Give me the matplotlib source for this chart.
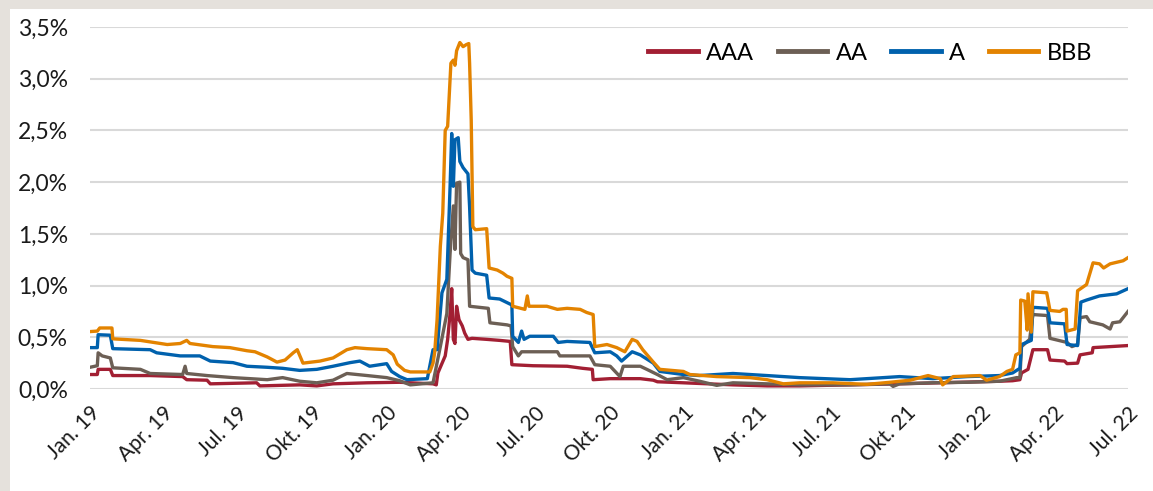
import matplotlib
matplotlib.use("Agg")
import matplotlib.pyplot as plt
import pandas as pd
from matplotlib.patches import Rectangle
from matplotlib.ticker import FuncFormatter

# spreads per rating class (in %) as (date, value) points
aaa = [("2019-01-01", 0.14), ("2019-01-10", 0.14), ("2019-01-11", 0.19), ("2019-01-26", 0.19),
       ("2019-01-29", 0.13), ("2019-03-16", 0.13), ("2019-04-25", 0.12), ("2019-04-30", 0.09),
       ("2019-05-25", 0.085), ("2019-05-29", 0.05), ("2019-07-25", 0.06), ("2019-07-29", 0.03),
       ("2019-09-16", 0.04), ("2019-10-07", 0.03), ("2019-10-27", 0.05), ("2019-12-08", 0.06),
       ("2020-01-17", 0.065), ("2020-02-27", 0.05), ("2020-03-02", 0.04), ("2020-03-04", 0.155),
       ("2020-03-13", 0.32), ("2020-03-16", 0.48), ("2020-03-19", 0.73), ("2020-03-21", 0.97),
       ("2020-03-23", 0.48), ("2020-03-25", 0.44), ("2020-03-27", 0.80), ("2020-03-30", 0.67),
       ("2020-04-03", 0.61), ("2020-04-06", 0.54), ("2020-04-10", 0.48), ("2020-04-15", 0.49),
       ("2020-05-03", 0.48), ("2020-05-19", 0.47), ("2020-06-01", 0.46), ("2020-06-03", 0.235),
       ("2020-06-29", 0.225), ("2020-08-10", 0.22), ("2020-08-29", 0.20), ("2020-09-10", 0.19),
       ("2020-09-11", 0.09), ("2020-10-02", 0.10), ("2020-11-08", 0.10), ("2020-11-24", 0.085),
       ("2020-11-29", 0.07), ("2020-12-31", 0.06), ("2021-03-02", 0.04), ("2021-04-13", 0.03),
       ("2021-05-23", 0.03), ("2021-09-23", 0.05), ("2022-01-24", 0.075), ("2022-02-09", 0.08),
       ("2022-02-18", 0.09), ("2022-02-20", 0.155), ("2022-02-28", 0.19), ("2022-03-06", 0.38),
       ("2022-03-24", 0.38), ("2022-03-27", 0.28), ("2022-04-14", 0.27), ("2022-04-17", 0.245),
       ("2022-04-30", 0.25), ("2022-05-03", 0.33), ("2022-05-18", 0.35), ("2022-05-19", 0.40),
       ("2022-07-01", 0.42)]

aa = [("2019-01-01", 0.21), ("2019-01-10", 0.225), ("2019-01-11", 0.35), ("2019-01-16", 0.32),
      ("2019-01-26", 0.30), ("2019-01-29", 0.205), ("2019-03-04", 0.19), ("2019-03-16", 0.15),
      ("2019-04-25", 0.14), ("2019-04-28", 0.22), ("2019-04-30", 0.15), ("2019-05-25", 0.13),
      ("2019-06-26", 0.11), ("2019-08-07", 0.09), ("2019-08-26", 0.11), ("2019-09-16", 0.075),
      ("2019-10-07", 0.06), ("2019-10-27", 0.085), ("2019-11-13", 0.15), ("2019-12-08", 0.13),
      ("2020-01-01", 0.11), ("2020-01-17", 0.08), ("2020-01-30", 0.04), ("2020-02-27", 0.06),
      ("2020-03-07", 0.41), ("2020-03-15", 0.73), ("2020-03-19", 1.31), ("2020-03-23", 1.77),
      ("2020-03-25", 1.35), ("2020-03-27", 1.99), ("2020-03-31", 2.00), ("2020-04-01", 1.31),
      ("2020-04-04", 1.27), ("2020-04-10", 1.25), ("2020-04-12", 0.80), ("2020-05-05", 0.78),
      ("2020-05-07", 0.64), ("2020-05-28", 0.62), ("2020-06-02", 0.61), ("2020-06-04", 0.41),
      ("2020-06-11", 0.32), ("2020-06-15", 0.36), ("2020-07-29", 0.36), ("2020-08-01", 0.32),
      ("2020-09-07", 0.32), ("2020-09-13", 0.235), ("2020-10-02", 0.22), ("2020-10-08", 0.17),
      ("2020-10-14", 0.12), ("2020-10-18", 0.22), ("2020-11-08", 0.22), ("2020-11-16", 0.19),
      ("2020-11-29", 0.14), ("2020-12-11", 0.09), ("2020-12-31", 0.11), ("2021-01-20", 0.075),
      ("2021-02-10", 0.035), ("2021-03-02", 0.06), ("2021-04-13", 0.05), ("2021-05-23", 0.04),
      ("2021-07-24", 0.04), ("2021-09-11", 0.05), ("2021-09-15", 0.025), ("2021-09-23", 0.05),
      ("2021-11-03", 0.06), ("2021-12-15", 0.065), ("2022-01-24", 0.075), ("2022-02-14", 0.11),
      ("2022-02-18", 0.11), ("2022-02-20", 0.41), ("2022-03-02", 0.48), ("2022-03-06", 0.72),
      ("2022-03-24", 0.71), ("2022-03-27", 0.49), ("2022-04-17", 0.45), ("2022-04-23", 0.41),
      ("2022-04-30", 0.43), ("2022-05-03", 0.69), ("2022-05-11", 0.70), ("2022-05-15", 0.65),
      ("2022-05-31", 0.62), ("2022-06-09", 0.58), ("2022-06-12", 0.64), ("2022-06-21", 0.65),
      ("2022-07-01", 0.75)]

a = [("2019-01-01", 0.40), ("2019-01-10", 0.40), ("2019-01-11", 0.525), ("2019-01-26", 0.52),
     ("2019-01-29", 0.39), ("2019-03-16", 0.38), ("2019-03-24", 0.35), ("2019-04-22", 0.32),
     ("2019-05-16", 0.32), ("2019-05-29", 0.27), ("2019-06-26", 0.255), ("2019-07-13", 0.22),
     ("2019-08-07", 0.21), ("2019-08-26", 0.20), ("2019-09-16", 0.18), ("2019-10-07", 0.19),
     ("2019-10-27", 0.22), ("2019-11-17", 0.255), ("2019-11-29", 0.27), ("2019-12-11", 0.22),
     ("2020-01-01", 0.245), ("2020-01-07", 0.17), ("2020-01-17", 0.12), ("2020-01-26", 0.09),
     ("2020-02-20", 0.10), ("2020-02-27", 0.38), ("2020-03-03", 0.38), ("2020-03-09", 0.93),
     ("2020-03-15", 1.06), ("2020-03-19", 1.96), ("2020-03-21", 2.47), ("2020-03-23", 1.96),
     ("2020-03-25", 2.41), ("2020-03-29", 2.43), ("2020-03-31", 2.20), ("2020-04-04", 2.14),
     ("2020-04-10", 2.08), ("2020-04-12", 1.76), ("2020-04-15", 1.15), ("2020-04-19", 1.12),
     ("2020-05-03", 1.10), ("2020-05-06", 0.88), ("2020-05-19", 0.87), ("2020-06-01", 0.82),
     ("2020-06-03", 0.82), ("2020-06-04", 0.51), ("2020-06-11", 0.45), ("2020-06-15", 0.56),
     ("2020-06-18", 0.48), ("2020-06-25", 0.51), ("2020-07-24", 0.51), ("2020-07-30", 0.45),
     ("2020-08-10", 0.46), ("2020-09-07", 0.45), ("2020-09-13", 0.35), ("2020-10-02", 0.36),
     ("2020-10-10", 0.32), ("2020-10-16", 0.27), ("2020-10-29", 0.36), ("2020-11-08", 0.33),
     ("2020-11-24", 0.25), ("2020-12-02", 0.17), ("2020-12-31", 0.14), ("2021-01-20", 0.13),
     ("2021-03-02", 0.15), ("2021-04-13", 0.13), ("2021-05-23", 0.11), ("2021-07-24", 0.09),
     ("2021-09-03", 0.11), ("2021-09-23", 0.12), ("2021-11-03", 0.10), ("2021-12-15", 0.12),
     ("2022-01-24", 0.13), ("2022-02-09", 0.155), ("2022-02-18", 0.20), ("2022-02-20", 0.43),
     ("2022-03-04", 0.47), ("2022-03-06", 0.79), ("2022-03-24", 0.78), ("2022-03-27", 0.64),
     ("2022-04-14", 0.63), ("2022-04-17", 0.43), ("2022-04-30", 0.42), ("2022-05-04", 0.84),
     ("2022-05-11", 0.86), ("2022-05-27", 0.90), ("2022-06-17", 0.92), ("2022-07-01", 0.97)]

bbb = [("2019-01-01", 0.555), ("2019-01-10", 0.56), ("2019-01-13", 0.59), ("2019-01-28", 0.59),
       ("2019-01-29", 0.485), ("2019-03-04", 0.47), ("2019-04-06", 0.43), ("2019-04-22", 0.44),
       ("2019-04-30", 0.47), ("2019-05-04", 0.44), ("2019-06-01", 0.41), ("2019-06-22", 0.40),
       ("2019-07-13", 0.37), ("2019-07-23", 0.36), ("2019-08-07", 0.31), ("2019-08-19", 0.26),
       ("2019-08-29", 0.28), ("2019-09-08", 0.35), ("2019-09-13", 0.38), ("2019-09-20", 0.25),
       ("2019-10-11", 0.27), ("2019-10-27", 0.30), ("2019-11-13", 0.38), ("2019-11-23", 0.40),
       ("2019-12-08", 0.39), ("2020-01-01", 0.38), ("2020-01-09", 0.33), ("2020-01-14", 0.24),
       ("2020-01-23", 0.18), ("2020-01-30", 0.165), ("2020-02-23", 0.165), ("2020-02-27", 0.25),
       ("2020-02-29", 0.35), ("2020-03-03", 0.67), ("2020-03-07", 1.38), ("2020-03-10", 1.70),
       ("2020-03-13", 2.50), ("2020-03-16", 2.54), ("2020-03-20", 3.15), ("2020-03-23", 3.18),
       ("2020-03-25", 3.13), ("2020-03-27", 3.27), ("2020-03-31", 3.35), ("2020-04-04", 3.31),
       ("2020-04-08", 3.33), ("2020-04-11", 3.34), ("2020-04-12", 3.15), ("2020-04-14", 2.60),
       ("2020-04-16", 1.57), ("2020-04-19", 1.54), ("2020-05-03", 1.55), ("2020-05-06", 1.17),
       ("2020-05-16", 1.15), ("2020-05-23", 1.12), ("2020-05-28", 1.09), ("2020-06-03", 1.07),
       ("2020-06-04", 0.80), ("2020-06-19", 0.77), ("2020-06-22", 0.90), ("2020-06-24", 0.80),
       ("2020-07-16", 0.80), ("2020-07-29", 0.77), ("2020-08-10", 0.78), ("2020-08-26", 0.77),
       ("2020-09-03", 0.74), ("2020-09-11", 0.72), ("2020-09-13", 0.41), ("2020-09-28", 0.43),
       ("2020-10-10", 0.40), ("2020-10-20", 0.36), ("2020-10-29", 0.48), ("2020-11-04", 0.46),
       ("2020-11-11", 0.38), ("2020-11-24", 0.26), ("2020-12-02", 0.19), ("2020-12-31", 0.17),
       ("2021-01-08", 0.14), ("2021-02-10", 0.12), ("2021-03-23", 0.11), ("2021-04-13", 0.09),
       ("2021-05-03", 0.05), ("2021-05-23", 0.06), ("2021-07-03", 0.06), ("2021-08-14", 0.045),
       ("2021-09-11", 0.065), ("2021-10-06", 0.085), ("2021-10-28", 0.13), ("2021-11-12", 0.10),
       ("2021-11-15", 0.04), ("2021-11-28", 0.12), ("2021-12-31", 0.13), ("2022-01-08", 0.085),
       ("2022-01-24", 0.12), ("2022-02-02", 0.17), ("2022-02-09", 0.19), ("2022-02-13", 0.33),
       ("2022-02-18", 0.35), ("2022-02-19", 0.86), ("2022-02-24", 0.85), ("2022-02-27", 0.57),
       ("2022-02-28", 0.92), ("2022-03-04", 0.55), ("2022-03-06", 0.94), ("2022-03-23", 0.93),
       ("2022-03-27", 0.76), ("2022-04-08", 0.75), ("2022-04-12", 0.77), ("2022-04-16", 0.77),
       ("2022-04-17", 0.56), ("2022-04-27", 0.58), ("2022-04-30", 0.95), ("2022-05-11", 1.01),
       ("2022-05-19", 1.22), ("2022-05-27", 1.21), ("2022-06-01", 1.17), ("2022-06-09", 1.21),
       ("2022-06-25", 1.24), ("2022-07-01", 1.27)]

series_names = ["AAA", "AA", "A", "BBB"]
series_data = [aaa, aa, a, bbb]
colors = ["#A21F33", "#6C5F55", "#0061AD", "#E38300"]

tick_dates = ["2019-01-01", "2019-04-01", "2019-07-01", "2019-10-01",
              "2020-01-01", "2020-04-01", "2020-07-01", "2020-10-01",
              "2021-01-01", "2021-04-01", "2021-07-01", "2021-10-01",
              "2022-01-01", "2022-04-01", "2022-07-01"]
tick_labels = ["Jan. 19", "Apr. 19", "Jul. 19", "Okt. 19",
               "Jan. 20", "Apr. 20", "Jul. 20", "Okt. 20",
               "Jan. 21", "Apr. 21", "Jul. 21", "Okt. 21",
               "Jan. 22", "Apr. 22", "Jul. 22"]

plt.rcParams['font.family'] = ['Lato', 'DejaVu Sans']

fig = plt.figure(figsize=(11.53, 4.91), dpi=100)
fig.patch.set_facecolor('#E5E1DC')
# white panel, leaves the grey strip on top and left
panel = Rectangle((10 / 1153, 0), 1, 1 - 9 / 491, transform=fig.transFigure,
                  facecolor='white', edgecolor='none', zorder=-10)
fig.patches.append(panel)

ax = fig.add_axes([90 / 1153, 102 / 491, 1038 / 1153, 362 / 491])
ax.set_facecolor('none')
ax.set_zorder(1)

for name, data, col in zip(series_names, series_data, colors):
    d = pd.to_datetime([p[0] for p in data])
    v = [p[1] for p in data]
    ax.plot(d, v, color=col, linewidth=2.4, label=name, solid_joinstyle='round')

ax.set_xlim(pd.Timestamp(tick_dates[0]), pd.Timestamp(tick_dates[-1]))
ax.set_ylim(0, 3.5)
ax.set_yticks([0, 0.5, 1.0, 1.5, 2.0, 2.5, 3.0, 3.5])
ax.yaxis.set_major_formatter(FuncFormatter(lambda v, p: f"{v:.1f}%".replace('.', ',')))
ax.set_xticks(pd.to_datetime(tick_dates))
ax.set_xticklabels(tick_labels, rotation=45, ha='right', rotation_mode='anchor')

ax.tick_params(axis='both', length=0, labelcolor='#1a1a1a')
ax.tick_params(axis='x', pad=10, labelsize=15)
ax.tick_params(axis='y', pad=16, labelsize=16.5)
ax.grid(axis='y', color='#D9D9D9', linewidth=1.5)
ax.set_axisbelow(True)
for s in ax.spines.values():
    s.set_visible(False)

leg = ax.legend(loc='center', bbox_to_anchor=(870 / 1153, 1 - 53 / 491), bbox_transform=fig.transFigure,
                ncol=4, fontsize=17, frameon=True, handlelength=2.1, handletextpad=0.35,
                columnspacing=1.0, borderpad=0.6, fancybox=False)
leg.get_frame().set_edgecolor('none')
leg.get_frame().set_facecolor('white')
leg.get_frame().set_alpha(0.85)
for line in leg.get_lines():
    line.set_linewidth(3.5)

fig.savefig('out.png', dpi=100, facecolor=fig.get_facecolor())
